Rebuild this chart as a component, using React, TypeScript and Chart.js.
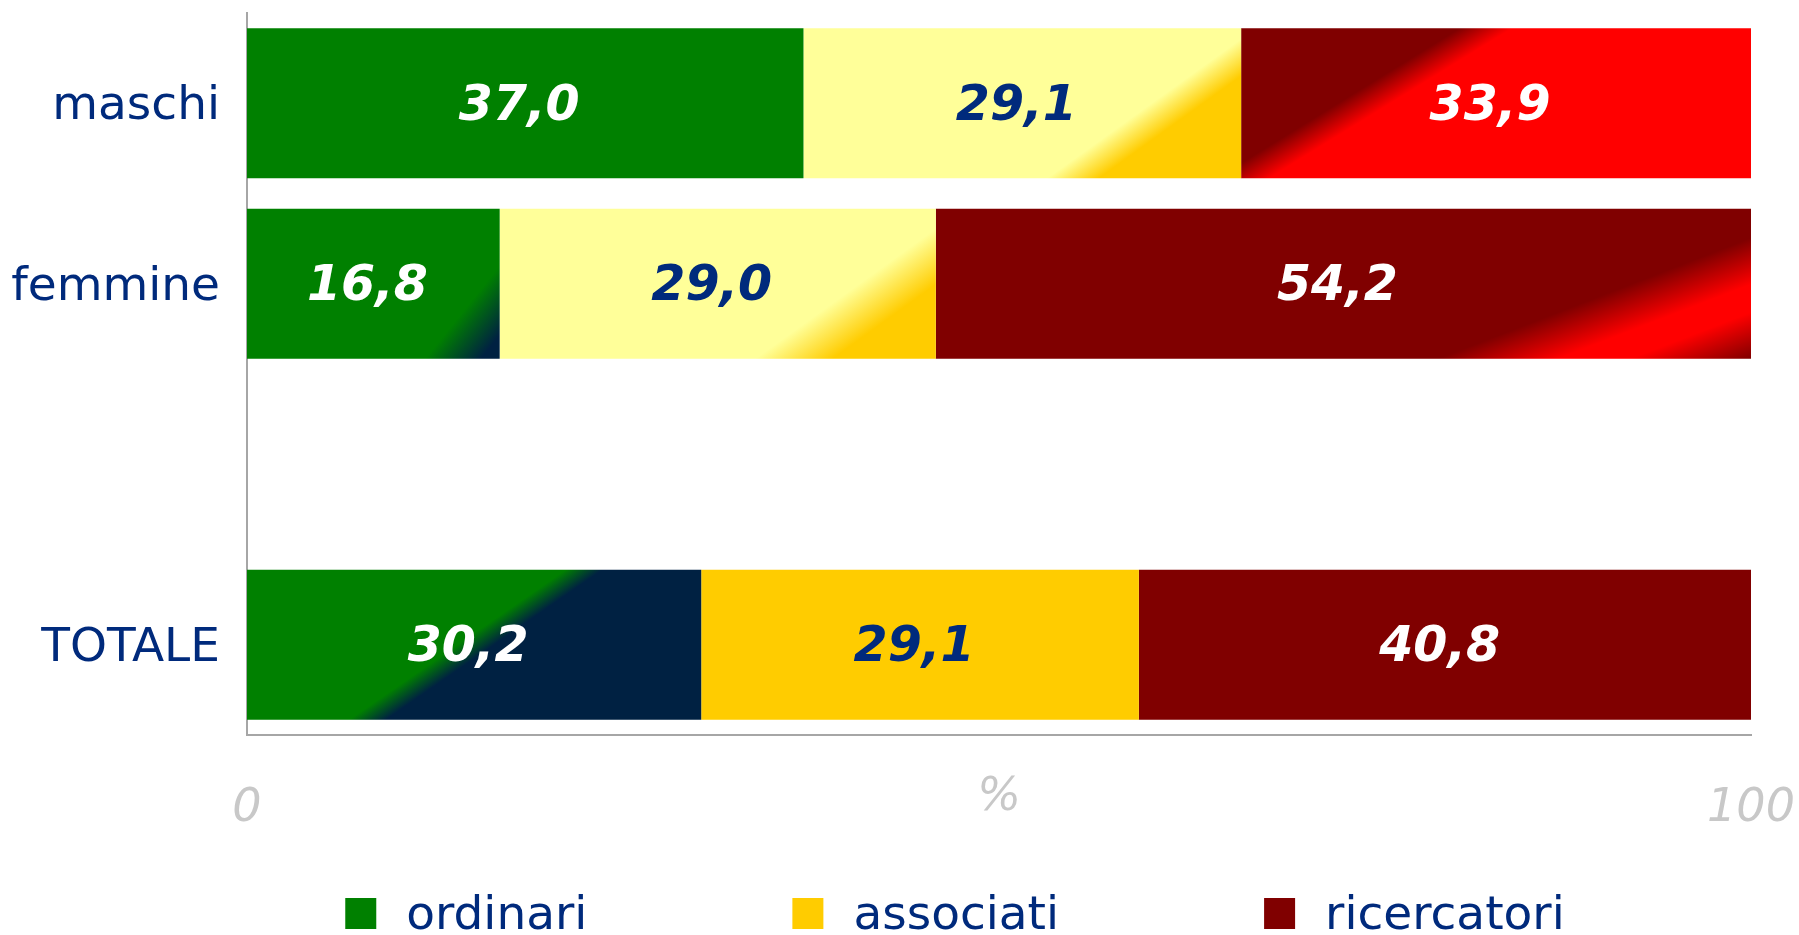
import { useEffect, useRef } from 'react';
import { Chart, registerables } from 'chart.js';

Chart.register(...registerables);

// ---- data ----
const categories = ['maschi', 'femmine', '', 'TOTALE'];
const seriesNames = ['ordinari', 'associati', 'ricercatori'];
const ordinari = [37.0, 16.8, null, 30.2];
const associati = [29.1, 29.0, null, 29.1];
const ricercatori = [33.9, 54.2, null, 40.8];
const xTickValues = [0, 100];
const xTitle = '%';

// ---- styles ----
const FONT = "'DejaVu Sans', Verdana, sans-serif";
const NAVY = '#002a7c';
const legendColors = ['#008000', '#FFCC00', '#800000'];
const valueColors = ['#ffffff', NAVY, '#ffffff'];
type Stops = [number, string][];
const solid = (c: string): Stops => [[0, c], [1, c]];
// per dataset, per category: gradient stops along a diagonal (top-left -> bottom-right)
const fills: (Stops | null)[][] = [
  [solid('#008000'), [[0.8, '#008000'], [0.95, '#002142']], null, [[0.475, '#008000'], [0.53, '#002142']]],
  [[[0.7, '#FFFF99'], [0.78, '#FFCC00']], [[0.72, '#FFFF99'], [0.84, '#FFCC00']], null, solid('#FFCC00')],
  [[[0.29, '#800000'], [0.36, '#FF0000']], [[0.74, '#800000'], [0.84, '#FF0000'], [0.9, '#FF0000'], [1, '#800000']], null, solid('#800000')],
];
const DIAG = 2.1; // weight of horizontal direction in normalized gradient space

const gradientPlugin = {
  id: 'barGradients',
  beforeDatasetsDraw(chart: any) {
    const c = chart.ctx;
    chart.data.datasets.forEach((ds: any, i: number) => {
      const meta = chart.getDatasetMeta(i);
      meta.data.forEach((el: any, j: number) => {
        const stops = fills[i][j];
        if (!stops || ds.data[j] == null || !el.options) return;
        const { x, y, base, height } = el.getProps(['x', 'y', 'base', 'height'], true);
        const left = Math.min(x, base);
        const w = Math.max(1, Math.abs(x - base));
        const h = Math.max(1, height);
        const top = y - h / 2;
        const gx = DIAG / ((DIAG + 1) * w);
        const gy = 1 / ((DIAG + 1) * h);
        const n = gx * gx + gy * gy;
        const grad = c.createLinearGradient(left, top, left + gx / n, top + gy / n);
        stops.forEach(([o, col]) => grad.addColorStop(o, col));
        el.options = Object.assign({}, el.options, { backgroundColor: grad });
      });
    });
  },
};

const valueLabelPlugin = {
  id: 'valueLabels',
  afterDatasetsDraw(chart: any) {
    const c = chart.ctx;
    c.save();
    c.font = `italic bold 49px ${FONT}`;
    c.textAlign = 'center';
    c.textBaseline = 'middle';
    chart.data.datasets.forEach((ds: any, i: number) => {
      const meta = chart.getDatasetMeta(i);
      meta.data.forEach((el: any, j: number) => {
        const v = ds.data[j];
        if (v == null) return;
        const { x, y, base } = el.getProps(['x', 'y', 'base'], true);
        c.fillStyle = valueColors[i];
        c.fillText(v.toFixed(1).replace('.', ','), (x + base) / 2 - 6, y + 4);
      });
    });
    c.restore();
  },
};

const LEGEND_CX = 955;
const legendPlugin = {
  id: 'bottomLegend',
  afterDraw(chart: any) {
    const c = chart.ctx;
    c.save();
    c.font = `47px ${FONT}`;
    const box = 31;
    const gap = 30;
    const spacing = 205;
    const widths = chart.data.datasets.map((d: any) => c.measureText(d.label).width);
    const total = widths.reduce((a: number, w: number) => a + box + gap + w, 0) + spacing * (widths.length - 1);
    let x = LEGEND_CX - total / 2;
    const baseY = chart.height - 6;
    c.textBaseline = 'alphabetic';
    c.textAlign = 'left';
    chart.data.datasets.forEach((d: any, i: number) => {
      c.fillStyle = legendColors[i];
      c.fillRect(x, baseY - box, box, box);
      c.fillStyle = NAVY;
      c.fillText(d.label, x + box + gap, baseY);
      x += box + gap + widths[i] + spacing;
    });
    c.restore();
  },
};

export default function App() {
  const ref = useRef<HTMLCanvasElement | null>(null);
  useEffect(() => {
    document.body.style.margin = '0';
    const canvas = ref.current;
    if (!canvas) return;
    const chart = new Chart(canvas, {
      type: 'bar',
      data: {
        labels: categories,
        datasets: [
          { label: seriesNames[0], data: ordinari, backgroundColor: legendColors[0] },
          { label: seriesNames[1], data: associati, backgroundColor: legendColors[1] },
          { label: seriesNames[2], data: ricercatori, backgroundColor: legendColors[2] },
        ] as any,
      },
      options: {
        indexAxis: 'y',
        animation: false,
        responsive: false,
        devicePixelRatio: 1,
        layout: { autoPadding: false, padding: { top: 13, right: 48, left: 0, bottom: 0 } },
        datasets: { bar: { categoryPercentage: 1, barPercentage: 0.83, borderWidth: 0 } },
        plugins: { legend: { display: false }, tooltip: { enabled: false }, title: { display: false } },
        scales: {
          x: {
            stacked: true,
            min: 0,
            max: 100,
            afterBuildTicks: (s: any) => {
              s.ticks = xTickValues.map((v) => ({ value: v }));
            },
            afterFit: (s: any) => {
              s.height = 200;
              s.paddingLeft = 0;
              s.paddingRight = 0;
            },
            ticks: {
              font: { family: FONT, size: 46, style: 'italic' },
              color: '#c8c8c8',
              padding: 46,
              maxRotation: 0,
              autoSkip: false,
            },
            grid: { display: false, drawTicks: false },
            border: { display: true, color: '#a6a6a6', width: 2 },
            title: {
              display: true,
              text: xTitle,
              font: { family: FONT, size: 46, style: 'italic' },
              color: '#c8c8c8',
              padding: { top: 0, bottom: 109 },
            },
          },
          y: {
            stacked: true,
            afterFit: (s: any) => {
              s.width = 247;
              s.paddingTop = 0;
              s.paddingBottom = 0;
            },
            ticks: { font: { family: FONT, size: 47 }, color: NAVY, padding: 27, labelOffset: 4 },
            grid: { display: false, drawTicks: false },
            border: { display: true, color: '#a6a6a6', width: 2 },
          },
        },
      } as any,
      plugins: [gradientPlugin, valueLabelPlugin, legendPlugin],
    });
    return () => chart.destroy();
  }, []);
  return (
    <div style={{ width: 1799, height: 935, background: '#ffffff' }}>
      <canvas ref={ref} width={1799} height={935} style={{ display: 'block' }} />
    </div>
  );
}
